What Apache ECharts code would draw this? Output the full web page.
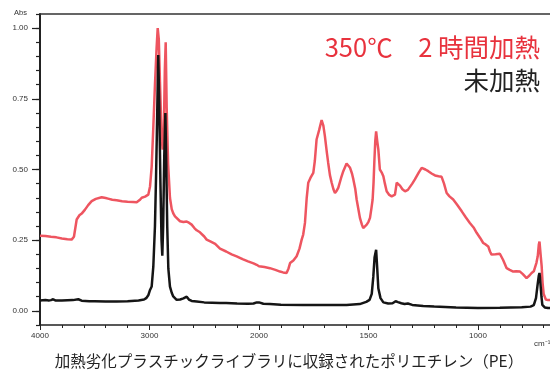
<!DOCTYPE html>
<html><head><meta charset="utf-8">
<script src="https://cdn.jsdelivr.net/npm/echarts@6/dist/echarts.min.js"></script>
<style>html,body{margin:0;padding:0;background:#fff}#c{width:550px;height:371px}</style>
</head><body><div id="c"></div>
<script>
// ---- data (wavenumber cm-1, absorbance) ----
const heatedWavenumbers = [4000,3950,3900,3850,3800,3750,3711,3690,3665,3640,3619,3589,3560,3528,3490,3437,3400,3379,3340,3300,3250,3200,3150,3117,3090,3071,3040,3011,2995,2980,2965,2950,2935,2925,2915,2905,2890,2880,2870,2860,2852,2843,2830,2813,2797,2783,2767,2752,2721,2690,2660,2640,2615,2590,2569,2539,2500,2478,2440,2400,2356,2300,2250,2204,2150,2100,2050,2021,2000,1975,1950,1925,1904,1890,1874,1865,1858,1843,1828,1815,1805,1798,1790,1782,1775,1765,1752,1745,1737,1725,1714,1706,1699,1690,1684,1676,1668,1660,1653,1645,1638,1625,1615,1600,1592,1584,1575,1569,1560,1554,1545,1539,1530,1524,1515,1508,1500,1493,1487,1481,1477,1473,1469,1465,1460,1455,1448,1440,1432,1425,1417,1405,1394,1385,1379,1371,1365,1356,1345,1333,1320,1311,1300,1288,1270,1257,1240,1227,1210,1196,1180,1166,1155,1143,1130,1113,1095,1074,1055,1037,1020,1006,990,976,965,953,945,938,920,900,885,869,855,839,825,808,795,778,765,755,745,740,733,727,722,719,714,709,705,700,690,680,671];
const heatedAbs = [0.266,0.265,0.262,0.260,0.256,0.253,0.252,0.262,0.323,0.338,0.344,0.358,0.374,0.388,0.396,0.402,0.399,0.397,0.393,0.391,0.388,0.386,0.385,0.384,0.392,0.400,0.404,0.411,0.440,0.510,0.650,0.800,0.930,1.000,0.960,0.820,0.620,0.570,0.620,0.850,0.950,0.720,0.520,0.400,0.360,0.345,0.334,0.330,0.317,0.314,0.316,0.312,0.305,0.293,0.285,0.278,0.263,0.252,0.245,0.237,0.220,0.210,0.200,0.193,0.183,0.175,0.168,0.163,0.158,0.155,0.151,0.145,0.139,0.136,0.134,0.150,0.169,0.178,0.193,0.220,0.252,0.270,0.311,0.400,0.453,0.470,0.488,0.530,0.606,0.640,0.675,0.655,0.618,0.560,0.524,0.480,0.453,0.430,0.417,0.425,0.435,0.470,0.494,0.521,0.515,0.506,0.485,0.465,0.430,0.394,0.355,0.329,0.305,0.293,0.298,0.305,0.315,0.329,0.360,0.394,0.450,0.530,0.600,0.635,0.600,0.571,0.500,0.490,0.476,0.450,0.423,0.410,0.405,0.407,0.411,0.453,0.450,0.443,0.430,0.423,0.428,0.435,0.450,0.465,0.490,0.506,0.500,0.494,0.485,0.479,0.476,0.474,0.450,0.417,0.405,0.394,0.375,0.352,0.330,0.311,0.295,0.276,0.258,0.240,0.235,0.228,0.210,0.199,0.200,0.202,0.180,0.151,0.145,0.139,0.140,0.139,0.130,0.116,0.125,0.134,0.140,0.145,0.170,0.193,0.235,0.245,0.200,0.157,0.100,0.060,0.040,0.038,0.038];
const unheatedWavenumbers = [4000,3950,3935,3920,3900,3880,3860,3800,3700,3650,3620,3550,3500,3400,3300,3200,3100,3050,3030,3011,2995,2980,2965,2950,2940,2934,2925,2920,2912,2900,2890,2883,2875,2865,2855,2848,2838,2828,2813,2797,2783,2752,2720,2690,2660,2640,2615,2569,2500,2356,2300,2200,2100,2050,2020,2010,2000,1980,1950,1900,1800,1700,1600,1540,1510,1495,1485,1478,1472,1465,1460,1455,1445,1432,1410,1390,1376,1365,1350,1335,1320,1300,1250,1200,1100,1000,900,800,760,745,735,728,722,719,716,710,706,695,680,671];
const unheatedAbs = [0.037,0.038,0.042,0.037,0.038,0.041,0.037,0.037,0.038,0.041,0.036,0.034,0.034,0.033,0.033,0.034,0.037,0.040,0.045,0.055,0.074,0.086,0.157,0.300,0.476,0.600,0.800,0.905,0.750,0.450,0.250,0.195,0.300,0.550,0.700,0.550,0.300,0.150,0.086,0.064,0.051,0.039,0.040,0.044,0.050,0.040,0.035,0.033,0.030,0.028,0.028,0.026,0.025,0.026,0.030,0.034,0.030,0.025,0.024,0.022,0.021,0.021,0.021,0.024,0.032,0.039,0.060,0.120,0.190,0.216,0.150,0.080,0.045,0.030,0.026,0.027,0.034,0.031,0.027,0.024,0.026,0.021,0.017,0.015,0.012,0.010,0.011,0.013,0.015,0.020,0.045,0.090,0.125,0.134,0.110,0.050,0.021,0.012,0.010,0.010];
const xTickWavenumbers = [4000,3000,2000,1500,1000];
const yTickValues = [0,0.25,0.5,0.75,1.0];
const seriesNames = ['350℃　2 時間加熱','未加熱'];
const captionText = '加熱劣化プラスチックライブラリに収録されたポリエチレン（PE）';

// piecewise wavenumber scale: 4000-2000 compressed, below 2000 expanded x2
function toU(w){ return w >= 2000 ? 4000 - w : 2000 + 2*(2000 - w); }
function fromU(u){ return u <= 2000 ? 4000 - u : 2000 - (u - 2000)/2; }
const U_MAX = toU(671);
const xMinorU = []; for (let u = 0; u <= U_MAX; u += 200) xMinorU.push(u);
const yMinor = []; for (let k = -1; k <= 21; k++) yMinor.push(+(k*0.05).toFixed(2));

const pair = (ws, as) => ws.map((w,i)=>[toU(w), as[i]]);

const gridRect = {left:40, right:0, top:14, bottom:46};
const chart = echarts.init(document.getElementById('c'), null, {renderer:'canvas'});
const axisCol = '#222';
const lblFont = {fontFamily:'Liberation Sans, Arial, sans-serif', fontSize:8, color:'#333'};
chart.setOption({
  animation:false,
  grid:[Object.assign({},gridRect), Object.assign({},gridRect), Object.assign({},gridRect)],
  xAxis:[
    {gridIndex:0, type:'value', min:0, max:U_MAX, position:'bottom',
     axisLine:{show:true, onZero:false, lineStyle:{color:axisCol, width:1.5}},
     axisTick:{show:true, customValues:xTickWavenumbers.map(toU), length:5, lineStyle:{color:axisCol,width:1}},
     axisLabel:Object.assign({customValues:xTickWavenumbers.map(toU), margin:7,
       formatter:v=>String(Math.round(fromU(v)))}, lblFont),
     splitLine:{show:false}},
    {gridIndex:1, type:'value', min:0, max:U_MAX, position:'bottom',
     axisLine:{show:false, onZero:false},
     axisTick:{show:true, customValues:xMinorU, length:3, lineStyle:{color:axisCol,width:1}},
     axisLabel:{show:false}, splitLine:{show:false}},
    {gridIndex:2, type:'value', min:0, max:U_MAX, position:'top',
     axisLine:{show:true, onZero:false, lineStyle:{color:'#333', width:1.5}},
     axisTick:{show:false}, axisLabel:{show:false}, splitLine:{show:false}}
  ],
  yAxis:[
    {gridIndex:0, type:'value', min:-0.05, max:1.05, position:'left',
     axisLine:{show:true, onZero:false, lineStyle:{color:axisCol, width:2}},
     axisTick:{show:true, customValues:yTickValues, length:8, lineStyle:{color:axisCol,width:1.2}},
     axisLabel:Object.assign({customValues:yTickValues, margin:12, formatter:v=>v.toFixed(2)}, lblFont),
     splitLine:{show:false}},
    {gridIndex:1, type:'value', min:-0.05, max:1.05, position:'left',
     axisLine:{show:false, onZero:false},
     axisTick:{show:true, customValues:yMinor, length:4, lineStyle:{color:axisCol,width:1.2}},
     axisLabel:{show:false}, splitLine:{show:false}},
    {gridIndex:2, type:'value', min:-0.05, max:1.05, position:'left',
     axisLine:{show:false, onZero:false}, axisTick:{show:false}, axisLabel:{show:false}, splitLine:{show:false}}
  ],
  series:[
    {name:seriesNames[0], type:'line', xAxisIndex:0, yAxisIndex:0, showSymbol:false, symbol:'none',
     data:pair(heatedWavenumbers, heatedAbs), lineStyle:{color:'#ee5560', width:2.5}, z:2},
    {name:seriesNames[1], type:'line', xAxisIndex:0, yAxisIndex:0, showSymbol:false, symbol:'none',
     data:pair(unheatedWavenumbers, unheatedAbs), lineStyle:{color:'#151515', width:2.5}, z:3}
  ],
  graphic:[
    {type:'text', left:14, top:9, style:{text:'Abs', font:'7.5px "Liberation Sans", Arial, sans-serif', fill:'#333'}},
    {type:'text', left:534, top:340, style:{text:'cm⁻¹', font:'8px "Liberation Sans", Arial, sans-serif', fill:'#333'}},
    {type:'text', x:540, y:47, style:{text:seriesNames[0], font:'25.5px "Noto Sans CJK JP", sans-serif', fill:'#e8323d', align:'right', verticalAlign:'middle'}},
    {type:'text', x:540, y:80, style:{text:seriesNames[1], font:'25.5px "Noto Sans CJK JP", sans-serif', fill:'#222', align:'right', verticalAlign:'middle'}},
    {type:'text', x:289, y:361, style:{text:captionText, font:'15.5px "Noto Sans CJK JP", sans-serif', fill:'#222', align:'center', verticalAlign:'middle'}}
  ]
});
</script></body></html>
